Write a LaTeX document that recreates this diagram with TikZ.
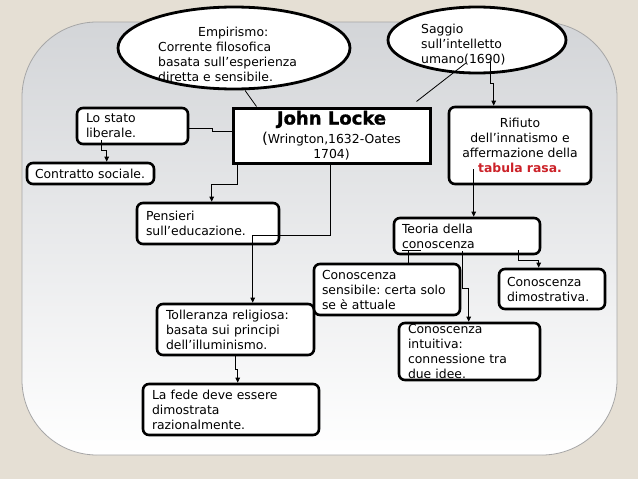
\documentclass[tikz,border=0pt]{standalone}
\usepackage{fontspec}
\setmainfont{DejaVu Sans}
\newfontfamily\heavyfont[FakeBold=1.2]{DejaVu Sans Bold}
\usetikzlibrary{shapes.geometric,arrows.meta,calc}
\definecolor{bgbeige}{HTML}{E5DFD4}
\definecolor{paneltop}{HTML}{D3D5D8}
\definecolor{redtxt}{HTML}{CC2229}
\frenchspacing
\begin{document}
\begin{tikzpicture}[x=1pt,y=-1pt,
  txt/.style={font=\fontsize{12.4}{15}\selectfont, inner sep=0pt, align=left},
  rbox/.style={draw=black, line width=2.6pt, rounded corners=6pt, fill=white,
    font=\fontsize{12.4}{15}\selectfont, align=left, inner xsep=9pt, inner ysep=2pt},
  ell/.style={ellipse, draw=black, line width=2.8pt, fill=white, inner sep=0pt},
  conn/.style={line width=0.8pt, draw=black},
  arr/.style={conn, -{Triangle[length=5pt,width=4.5pt]}}
]
\fill[bgbeige] (0,0) rectangle (638,479);
\useasboundingbox (0,0) rectangle (638,479);
\shadedraw[top color=paneltop, bottom color=white, draw=black!35, line width=0.8pt,
  rounded corners=75pt] (22,22) rectangle (617,455);

% ellipses
\node[ell, minimum width=232, minimum height=82] (emp) at (234,48) {};
\node[txt, anchor=north west] (empt) at (158,26.6)
  {\hspace*{40pt}Empirismo:\\Corrente filosofica\\basata sull’esperienza\\diretta e sensibile.};
\node[ell, minimum width=178, minimum height=66] (sag) at (477,40) {};
\node[txt, anchor=north west] (sagt) at (421,23.6)
  {Saggio\\sull’intelletto\\umano(1690)};

% main box
\node[draw=black, line width=3pt, fill=white, sharp corners, minimum width=197,
  minimum height=55, inner sep=1pt, align=center, font=\fontsize{12.4}{15}\selectfont]
  (jl) at (331.5,135.5)
  {{\fontsize{18}{19}\selectfont\heavyfont John Locke}\\[4pt]{\fontsize{15}{15}\selectfont(}Wrington,1632-Oates\\1704)};

% boxes
\node[rbox, minimum width=111, minimum height=36, text width=93] (lo) at (132.5,126) {Lo stato\\liberale.};
\node[rbox, minimum width=127, minimum height=21, text width=111, inner xsep=8pt] (con) at (90.5,173.5) {Contratto sociale.};
\node[rbox, minimum width=142, minimum height=41, text width=124] (pen) at (208,223.5) {Pensieri\\sull’educazione.};
\node[rbox, minimum width=157, minimum height=51, text width=139] (tol) at (235.5,329.5) {Tolleranza religiosa:\\basata sui principi\\dell’illuminismo.};
\node[rbox, minimum width=176, minimum height=51, text width=158] (fede) at (231,409.5) {La fede deve essere\\dimostrata\\razionalmente.};
\node[rbox, minimum width=142, minimum height=77, text width=128, inner xsep=7pt, align=center] (rif) at (520,145.5)
  {Rifiuto\\dell’innatismo e\\affermazione della\\{\bfseries\color{redtxt}tabula rasa.}};
\node[rbox, minimum width=146, minimum height=36, text width=130, inner xsep=8pt] (teo) at (467,236) {Teoria della\\conoscenza};
\node[rbox, minimum width=146, minimum height=51, text width=130, inner xsep=8pt] (sen) at (387,289.5) {Conoscenza\\sensibile: certa solo\\se è attuale};
\node[rbox, minimum width=106, minimum height=40, text width=90, inner xsep=8pt] (dim) at (552,289) {Conoscenza\\dimostrativa.};
\node[rbox, minimum width=141, minimum height=57, text width=123, inner ysep=0pt] (int) at (469.5,351.5) {Conoscenza\\intuitiva:\\connessione tra\\due idee.};

% connectors
\draw[conn] ($(emp.south)+(11,0)$) -- ($(jl.north west)+(25,0)$);
\draw[conn] ($(sag.center)+(-11,23)$) -- ($(jl.north east)+(-15,-5)$);
\draw[arr] ($(sag.center)+(13,22)$) -- ++(0,21) -| ($(rif.north west)+(46,0)$);
\draw[conn] ($(lo.east)+(0,2)$) -- ++(23,0) |- ($(jl.west)+(0,-4.5)$);
\draw[arr] ($(lo.south west)+(26,-5)$) -- ++(0,10) -| ($(con.north west)+(81,0)$);
\draw[arr] ($(jl.south west)+(6,0)$) -- ++(0,20) -| ($(pen.north west)+(76,0)$);
\draw[arr] ($(jl.south west)+(99,0)$) -- ++(0,71) -| ($(tol.north west)+(97,0)$);
\draw[arr] ($(rif.south west)+(26,-16)$) -- ($(teo.north west)+(81,0)$);
\draw[arr] ($(tol.south west)+(80,0)$) -- ++(0,13) -| ($(fede.north west)+(96,0)$);
\draw[conn] ($(teo.south west)+(28,-5)$) -| ($(sen.north west)+(96,0)$);
\draw[conn] ($(teo.south west)+(16,-5)$) -- ++(-7,0);
\draw[arr] ($(teo.south west)+(70,-4)$) -- ++(0,37) -| ($(int.north west)+(71,0)$);
\draw[arr] ($(teo.south west)+(126,-5)$) -- ++(0,10) -| ($(dim.north west)+(41,0)$);
\end{tikzpicture}
\end{document}
